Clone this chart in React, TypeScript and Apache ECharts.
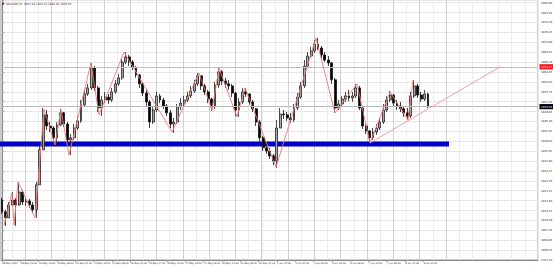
import React, { useEffect, useRef } from "react";
import * as echarts from "echarts";

// XAUUSD H1 — candles aggregated to 3-hour bars (x = hour index from first bar)
const candleStepHours = 3;
const firstOpen = 1818.0;
const closes = [
  1813.9, 1811.8, 1816.3, 1818.0, 1816.3, 1820.8, 1817.3, 1817.7, 1816.3, 1814.6,
  1823.3, 1835.5, 1847.7, 1843.8, 1843.1, 1839.7, 1844.2, 1848.4, 1844.5, 1839.0,
  1839.7, 1843.1, 1845.6, 1851.2, 1855.0, 1857.1, 1864.0, 1857.1, 1850.1, 1852.9,
  1853.9, 1852.9, 1855.7, 1858.5, 1860.6, 1866.1, 1867.9, 1866.1, 1864.4, 1861.6,
  1858.5, 1855.3, 1852.2, 1845.2, 1849.4, 1854.3, 1852.9, 1850.8, 1848.4, 1844.5,
  1845.2, 1850.5, 1851.8, 1852.9, 1854.3, 1856.0, 1858.5, 1861.3, 1857.8, 1855.7,
  1853.2, 1850.5, 1858.1, 1862.7, 1859.5, 1858.5, 1857.8, 1855.3, 1849.4, 1852.2,
  1855.7, 1855.0, 1852.2, 1849.8, 1845.2, 1839.7, 1836.2, 1835.1, 1833.4, 1831.6,
  1843.1, 1848.0, 1847.7, 1846.6, 1845.9, 1850.1, 1853.9, 1857.8, 1864.7, 1868.2,
  1870.0, 1872.4, 1871.0, 1868.6, 1866.8, 1865.8, 1859.9, 1850.1, 1851.5, 1853.2,
  1854.3, 1853.6, 1854.3, 1857.1, 1850.1, 1843.8, 1842.1, 1839.7, 1841.7, 1843.1,
  1845.2, 1849.4, 1852.9, 1854.6, 1851.8, 1850.8, 1849.8, 1848.4, 1847.3, 1854.3,
  1857.8, 1854.6, 1853.2, 1855.0, 1850.56,
];
const highs = [
  1818.7, 1814.6, 1817.3, 1820.8, 1818.7, 1824.3, 1821.5, 1819.1, 1818.4, 1817.3,
  1824.3, 1837.2, 1850.1, 1849.4, 1845.2, 1843.8, 1845.2, 1849.8, 1848.7, 1845.2,
  1841.0, 1844.5, 1847.0, 1852.9, 1856.4, 1858.5, 1865.8, 1864.7, 1857.8, 1854.3,
  1855.7, 1855.0, 1857.1, 1859.9, 1862.0, 1867.5, 1869.6, 1868.6, 1866.8, 1864.7,
  1862.0, 1859.2, 1856.4, 1852.9, 1850.8, 1855.7, 1855.0, 1853.6, 1851.5, 1849.4,
  1846.6, 1851.5, 1853.6, 1854.3, 1855.7, 1857.8, 1859.9, 1862.3, 1861.3, 1858.5,
  1856.4, 1853.6, 1859.2, 1864.0, 1863.3, 1860.6, 1859.9, 1858.5, 1855.7, 1853.6,
  1857.1, 1857.1, 1855.0, 1852.9, 1850.1, 1845.9, 1840.3, 1837.2, 1836.2, 1834.1,
  1845.9, 1850.1, 1849.4, 1848.7, 1848.4, 1851.5, 1855.3, 1859.2, 1866.8, 1869.6,
  1871.4, 1873.8, 1874.5, 1871.7, 1869.6, 1868.2, 1866.1, 1860.6, 1852.9, 1854.3,
  1855.7, 1856.4, 1855.7, 1858.5, 1857.8, 1850.8, 1844.5, 1842.4, 1843.1, 1844.5,
  1846.6, 1851.5, 1854.3, 1856.0, 1855.0, 1852.9, 1852.2, 1850.8, 1850.1, 1855.7,
  1859.9, 1858.5, 1855.7, 1856.4, 1855.4,
];
const lows = [
  1813.2, 1809.0, 1811.8, 1816.0, 1809.0, 1816.0, 1816.3, 1816.0, 1815.3, 1813.5,
  1811.8, 1823.3, 1835.5, 1842.4, 1841.7, 1839.0, 1836.9, 1843.8, 1843.5, 1837.9,
  1833.7, 1839.0, 1842.4, 1844.9, 1850.8, 1854.3, 1856.4, 1856.0, 1848.7, 1847.3,
  1851.8, 1851.5, 1852.2, 1855.0, 1857.8, 1859.9, 1865.4, 1864.7, 1863.3, 1860.6,
  1857.1, 1854.3, 1850.8, 1843.1, 1844.5, 1848.7, 1851.8, 1849.8, 1847.3, 1843.1,
  1841.4, 1844.5, 1849.4, 1850.8, 1852.2, 1853.6, 1855.3, 1857.8, 1856.4, 1854.6,
  1851.8, 1849.1, 1849.8, 1857.1, 1858.1, 1857.1, 1856.4, 1853.9, 1847.3, 1847.0,
  1851.5, 1853.9, 1851.2, 1848.7, 1843.8, 1838.3, 1835.1, 1834.1, 1832.3, 1830.2,
  1829.2, 1843.1, 1846.3, 1845.6, 1844.9, 1845.2, 1849.4, 1853.2, 1857.1, 1864.0,
  1867.5, 1869.3, 1870.3, 1867.5, 1866.1, 1864.7, 1858.5, 1848.4, 1849.4, 1850.8,
  1852.2, 1852.5, 1852.2, 1853.6, 1849.4, 1842.8, 1841.0, 1837.9, 1839.0, 1840.7,
  1842.4, 1844.5, 1848.7, 1852.2, 1850.8, 1849.4, 1848.7, 1847.0, 1845.9, 1846.6,
  1853.6, 1853.6, 1852.2, 1852.5, 1850.1,
];

// ZigZag indicator vertices (hour index, price)
const zigzagHours = [1.7, 8.7, 10.5, 14, 28.8, 36.7, 46.3, 51.5, 58.5, 77.7, 84.7, 106.6, 148.5, 172, 183.4, 189.5, 205.2, 212.2, 239.3, 274.2, 290.8, 310, 321.4, 338.9, 354.6, 359];
const zigzagPrices = [1809.0, 1820.5, 1809.3, 1824.3, 1811.8, 1849.7, 1837.2, 1849.7, 1833.7, 1865.8, 1847.7, 1869.6, 1841.7, 1862.3, 1849.4, 1864.0, 1847.0, 1857.1, 1829.5, 1874.5, 1848.4, 1858.5, 1837.9, 1855.7, 1845.9, 1859.9];

// Drawn objects
const trendHours = [321.4, 435];
const trendPrices = [1837.9, 1864.45];
const supportHours = [-2, 390.4];
const supportPrice = 1837.5;
const resistancePrice = 1864.45;

// Axes
const xTickHours = [0, 16, 32, 48, 64, 80, 96, 112, 128, 144, 160, 176, 192, 208, 224, 240, 256, 272, 288, 304, 320, 336, 352, 368];
const xLabels = [
  "18 May 2022", "18 May 20:00", "19 May 13:00", "20 May 06:00", "20 May 22:00", "23 May 15:00",
  "24 May 08:00", "25 May 01:00", "25 May 17:00", "26 May 10:00", "27 May 03:00", "27 May 19:00",
  "30 May 12:00", "31 May 05:00", "31 May 21:00", "1 Jun 14:00", "2 Jun 07:00", "2 Jun 23:00",
  "3 Jun 16:00", "6 Jun 09:00", "7 Jun 02:00", "7 Jun 18:00", "8 Jun 11:00", "9 Jun 04:00",
];
const yTickPrices = [
  1797.1, 1800.55, 1804.0, 1807.45, 1810.9, 1814.35, 1817.8, 1821.25, 1824.7, 1828.15,
  1831.6, 1835.05, 1838.5, 1841.95, 1845.4, 1848.85, 1852.3, 1855.75, 1859.2, 1862.65,
  1866.1, 1869.55, 1873.0, 1876.45, 1879.9, 1883.35, 1886.8,
];
const yMin = 1797.1;
const yMax = 1887.74;
const yStep = 3.45;
const titleText = "XAUUSD,H1  1851.64 1852.15 1849.92 1850.56";

const FONT = "DejaVu Sans";
const TS = 0.42; // text scale (browser enforces a minimum font size)
const TSX = 0.37; // time-axis label scale

export default function App() {
  const ref = useRef<HTMLDivElement>(null);

  useEffect(() => {
    if (!ref.current) return;
    const chart = echarts.init(ref.current, null, { renderer: "svg" });

    const candles = closes.map((c, k) => {
      const o = k === 0 ? firstOpen : closes[k - 1];
      const h = Math.max(highs[k], o, c);
      const l = Math.min(lows[k], o, c);
      return [k * candleStepHours, o, c, l, h];
    });
    const lastClose = closes[closes.length - 1];

    const option: any = {
      animation: false,
      backgroundColor: "#ffffff",
      grid: [
        { left: 1, right: 15, top: 0, bottom: 7, show: true, borderColor: "#9a9a9a", borderWidth: 1, backgroundColor: "transparent", outerBoundsMode: "none", containLabel: false },
        { left: 11.85, right: 15, top: 0, bottom: 7, outerBoundsMode: "none" },
        { left: 25, right: 107.2, top: 0, bottom: 7, outerBoundsMode: "none" },
      ],
      xAxis: [
        {
          gridIndex: 0,
          type: "value",
          min: -0.87,
          max: 468.1,
          axisLine: { show: true, lineStyle: { color: "#888", width: 1 } },
          axisTick: { show: true, customValues: xTickHours, length: 2, lineStyle: { color: "#999" } },
          axisLabel: { show: false },
          splitLine: { show: false },
        },
        {
          gridIndex: 1, type: "value", min: 0, max: 40, interval: 1,
          axisLine: { show: false }, axisTick: { show: false }, axisLabel: { show: false },
          splitLine: { show: true, lineStyle: { color: "#ededed", width: 1 } },
        },
        {
          gridIndex: 2, type: "value", min: 0, max: 16, interval: 1,
          axisLine: { show: false }, axisTick: { show: false }, axisLabel: { show: false },
          splitLine: { show: true, lineStyle: { color: "#d0d0d0", width: 1 } },
        },
      ],
      yAxis: [
        {
          gridIndex: 0,
          type: "value",
          position: "right",
          min: yMin,
          max: yMax,
          interval: yStep,
          axisLine: { show: true, lineStyle: { color: "#888", width: 1 } },
          axisTick: { show: true, length: 2, lineStyle: { color: "#999" } },
          axisLabel: { show: false },
          splitLine: { show: true, lineStyle: { color: "#e6e6e6", width: 1 } },
        },
        { gridIndex: 1, type: "value", show: false, min: 0, max: 1 },
        { gridIndex: 2, type: "value", show: false, min: 0, max: 1 },
      ],
      series: [
        {
          type: "line",
          xAxisIndex: 0,
          yAxisIndex: 0,
          data: supportHours.map((h) => [h, supportPrice]),
          symbol: "none",
          lineStyle: { color: "#0000c8", width: 5 },
          z: 3,
          silent: true,
        },
        {
          type: "candlestick",
          xAxisIndex: 0,
          yAxisIndex: 0,
          data: candles,
          encode: { x: 0, y: [1, 2, 3, 4] },
          barWidth: 2.4,
          itemStyle: {
            color: "#a8a8a8",
            color0: "#000000",
            borderColor: "#222222",
            borderColor0: "#111111",
            borderWidth: 0.8,
          },
          z: 4,
          silent: true,
          markLine: {
            silent: true,
            symbol: ["none", "none"],
            animation: false,
            label: { show: false },
            data: [
              { yAxis: resistancePrice, lineStyle: { color: "#f5a8a8", width: 1, type: "solid" } },
              { yAxis: lastClose, lineStyle: { color: "#b8b8b8", width: 1, type: "solid" } },
            ],
          },
        },
        {
          type: "line",
          xAxisIndex: 0,
          yAxisIndex: 0,
          data: zigzagHours.map((h, i) => [h, zigzagPrices[i]]),
          symbol: "none",
          lineStyle: { color: "#f07878", width: 0.9 },
          z: 5,
          silent: true,
        },
        {
          type: "line",
          xAxisIndex: 0,
          yAxisIndex: 0,
          data: trendHours.map((h, i) => [h, trendPrices[i]]),
          symbol: "none",
          lineStyle: { color: "#f3a0a0", width: 1 },
          z: 5,
          silent: true,
        },
      ],
    };

    chart.setOption(option);

    // Small texts: positioned through the chart's own axes, scaled down
    const txt = (text: string, x: number, y: number, fill: string, align: string, vAlign: string, s: number) => ({
      type: "text",
      x,
      y,
      scaleX: s,
      scaleY: s,
      silent: true,
      z: 50,
      style: {
        text,
        fill,
        fontSize: 6.5,
        fontFamily: FONT,
        textAlign: align,
        textVerticalAlign: vAlign,
        align,
        verticalAlign: vAlign,
      },
    });

    const gridBottomY = chart.convertToPixel({ yAxisIndex: 0 }, yMin) as number;
    const axisRightX = chart.convertToPixel({ xAxisIndex: 0 }, 468.1) as number;

    const graphics: any[] = [];
    xTickHours.forEach((h, i) => {
      const px = chart.convertToPixel({ xAxisIndex: 0 }, h) as number;
      graphics.push(txt(xLabels[i], px + 0.3, gridBottomY + 2.4, "#222", "left", "top", TSX));
    });
    yTickPrices.forEach((p) => {
      const py = chart.convertToPixel({ yAxisIndex: 0 }, p) as number;
      graphics.push(txt(p.toFixed(2), axisRightX + 3, py, "#222", "left", "middle", TS));
    });
    const tag = (price: number, bg: string) => {
      const py = chart.convertToPixel({ yAxisIndex: 0 }, price) as number;
      graphics.push({
        type: "rect",
        x: axisRightX + 1.5,
        y: py - 2.6,
        shape: { x: 0, y: 0, width: 14, height: 5.2 },
        style: { fill: bg },
        silent: true,
        z: 49,
      });
      graphics.push(txt(price.toFixed(2), axisRightX + 3, py, "#ffffff", "left", "middle", TS));
    };
    tag(resistancePrice, "#ff1010");
    tag(lastClose, "#000000");
    graphics.push({
      type: "polygon",
      shape: { points: [[1.5, 3], [4.5, 3], [3, 5.5]] },
      style: { fill: "#333" },
      silent: true,
      z: 50,
    });
    graphics.push(txt(titleText, 6, 4.3, "#222", "left", "middle", TS));

    chart.setOption({ graphic: { elements: graphics } });
    return () => chart.dispose();
  }, []);

  return (
    <div
      ref={ref}
      style={{ position: "absolute", left: 0, top: 0, width: 553, height: 267, background: "#fff" }}
    />
  );
}
